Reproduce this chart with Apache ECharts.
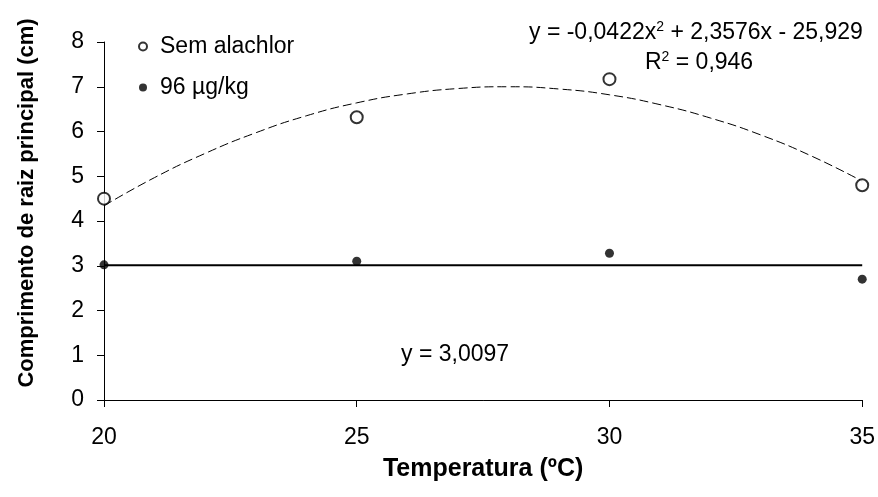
<!DOCTYPE html>
<html><head><meta charset="utf-8">
<script src="https://cdn.jsdelivr.net/npm/echarts@6/dist/echarts.min.js"></script>
<style>html,body{margin:0;padding:0;background:#fff}#c{width:878px;height:497px}</style>
</head><body><div id="c"></div>
<script>
const temps = [20, 25, 30, 35];
const semAlachlor = [4.5, 6.32, 7.17, 4.8];
const dose96 = [3.02, 3.1, 3.28, 2.7];
const trendX = [20,21,22,23,24,25,26,27,28,29,30,31,32,33,34,35];
const trendSem = [4.34,4.97,5.51,5.97,6.35,6.64,6.84,6.96,7.0,6.95,6.82,6.6,6.3,5.92,5.45,4.89];
const trend96 = [[20, 3.0097], [35, 3.0097]];
const yTicks = [0,1,2,3,4,5,6,7,8];
const xTicks = [20,25,30,35];

const font = '"Liberation Sans", Arial, sans-serif';
const chart = echarts.init(document.getElementById('c'));
chart.setOption({
  animation: false,
  backgroundColor: '#fff',
  textStyle: {fontFamily: font, color: '#000'},
  grid: {left: 104, right: 14, top: 42, bottom: 97},
  legend: {
    orient: 'vertical', left: 133, top: 30, itemGap: 18,
    itemWidth: 24, itemHeight: 8,
    textStyle: {fontFamily: font, fontSize: 23, color: '#000'},
    data: [{name: 'Sem alachlor', icon: 'circle'}, {name: '96 µg/kg', icon: 'circle'}]
  },
  xAxis: {
    type: 'value', min: 20, max: 35, interval: 5,
    name: 'Temperatura (ºC)', nameLocation: 'middle', nameGap: 57,
    nameTextStyle: {fontFamily: font, fontSize: 25, fontWeight: 'bold', color: '#000'},
    axisLine: {show: true, onZero: false, lineStyle: {color: '#000', width: 1}},
    axisTick: {show: true, inside: false, length: 7, lineStyle: {color: '#000'}},
    axisLabel: {fontFamily: font, fontSize: 23, color: '#000', margin: 26,
      formatter: v => xTicks.includes(v) ? String(v) : ''},
    splitLine: {show: false}
  },
  yAxis: {
    type: 'value', min: 0, max: 8, interval: 1,
    axisLine: {show: true, lineStyle: {color: '#000', width: 1}},
    axisTick: {show: true, length: 7, lineStyle: {color: '#000'}},
    axisLabel: {fontFamily: font, fontSize: 23, color: '#000', margin: 20,
      formatter: v => yTicks.includes(v) ? String(v) : ''},
    splitLine: {show: false}
  },
  series: [
    {
      name: 'Sem alachlor', type: 'scatter', symbol: 'circle', symbolSize: 12,
      itemStyle: {color: '#fff', borderColor: '#000', borderWidth: 2},
      data: temps.map((t, i) => [t, semAlachlor[i]]), z: 5
    },
    {
      name: '96 µg/kg', type: 'scatter', symbol: 'circle', symbolSize: 9,
      itemStyle: {color: '#000'},
      data: temps.map((t, i) => [t, dose96[i]]), z: 5
    },
    {
      name: 'trendSem', type: 'line', smooth: true, symbol: 'none',
      lineStyle: {color: '#000', width: 1, type: [9, 4]},
      data: trendX.map((t, i) => [t, trendSem[i]]), z: 3
    },
    {
      name: 'trend96', type: 'line', symbol: 'none',
      lineStyle: {color: '#000', width: 2},
      data: trend96, z: 3
    }
  ],
  graphic: [
    {type: 'text', x: 27, y: 203, rotation: Math.PI / 2, style: {
      text: 'Comprimento de raiz principal (cm)', fontFamily: font, fontSize: 22, fontWeight: 'bold',
      fill: '#000', align: 'center', verticalAlign: 'middle'
    }},
    {type: 'text', left: 529, top: 20, style: {
      text: '{n|y = -0,0422x}{s|2}{n| + 2,3576x - 25,929}',
      rich: {n: {fontFamily: font, fontSize: 23, fill: '#000'}, s: {fontFamily: font, fontSize: 14, fill: '#000', verticalAlign: 'top', padding: [0,0,12,0]}}
    }},
    {type: 'text', left: 645, top: 50, style: {
      text: '{n|R}{s|2}{n| = 0,946}',
      rich: {n: {fontFamily: font, fontSize: 23, fill: '#000'}, s: {fontFamily: font, fontSize: 14, fill: '#000', verticalAlign: 'top', padding: [0,0,12,0]}}
    }},
    {type: 'text', left: 401, top: 343, style: {text: 'y = 3,0097', fontFamily: font, fontSize: 23, fill: '#000'}}
  ]
});
</script></body></html>
